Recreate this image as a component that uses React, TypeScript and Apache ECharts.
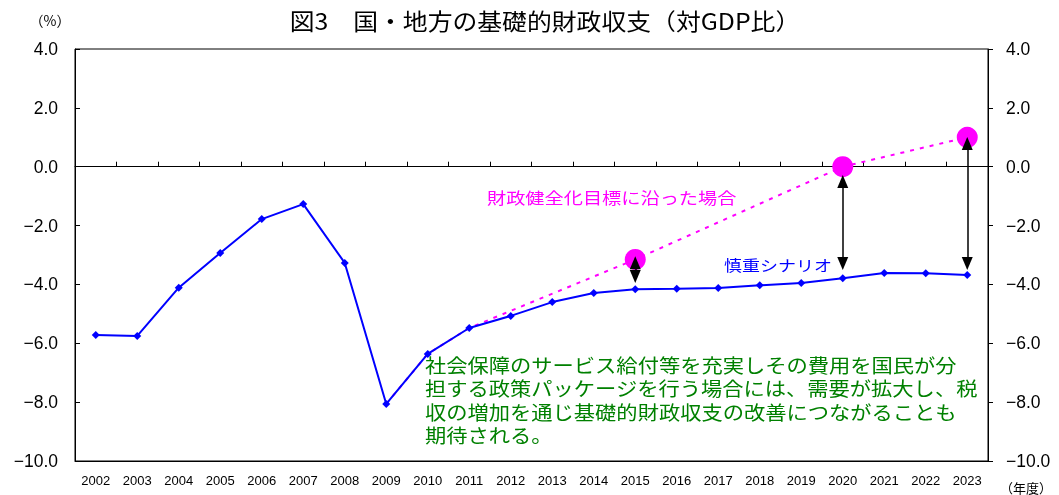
import React, { useEffect, useRef } from "react";
import * as echarts from "echarts";

const years = ["2002","2003","2004","2005","2006","2007","2008","2009","2010","2011","2012","2013","2014","2015","2016","2017","2018","2019","2020","2021","2022","2023"];
// 慎重シナリオ
const cautiousScenario = [-5.72,-5.75,-4.11,-2.93,-1.78,-1.27,-3.27,-8.06,-6.36,-5.48,-5.07,-4.60,-4.29,-4.16,-4.15,-4.12,-4.03,-3.95,-3.79,-3.61,-3.62,-3.68];
// 財政健全化目標に沿った場合
const targetPath: (number | null)[] = [null,null,null,null,null,null,null,-8.06,-6.36,-5.48,null,null,null,-3.15,null,null,null,null,0.0,null,null,1.0];
const targetMarkerYears = ["2015","2020","2023"];
// gap arrows
const arrowYears = ["2015","2020","2023"];
const arrowTop = [-3.26,-0.5,0.79];
const arrowBottom = [-3.73,-3.29,-3.29];
const yTickMin = -10;
const yTickMax = 4;
const yTickStep = 2;

const titleText = "図3　国・地方の基礎的財政収支（対GDP比）";
const noteLines = [
  "社会保障のサービス給付等を充実しその費用を国民が分",
  "担する政策パッケージを行う場合には、需要が拡大し、税",
  "収の増加を通じ基礎的財政収支の改善につながることも",
  "期待される。",
];

const NUM_FONT = "'Liberation Sans', Arial, sans-serif";
const JP_FONT = "'Noto Sans CJK JP', sans-serif";

export default function App() {
  const ref = useRef<HTMLDivElement>(null);
  useEffect(() => {
    if (!ref.current) return;
    const chart = echarts.init(ref.current, null, { renderer: "svg" });
    const fmt = (v: number) => (v < 0 ? "−" + Math.abs(v).toFixed(1) : v.toFixed(1));
    const targetData = targetPath.map((v, i) => {
      const big = targetMarkerYears.includes(years[i]);
      return big ? { value: v, symbol: "circle", symbolSize: 21 } : { value: v, symbol: "none" };
    });
    const arrowData = arrowYears.map((y, i) => [
      { coord: [y, arrowTop[i]] },
      { coord: [y, arrowBottom[i]] },
    ]);
    const yAxisBase = {
      type: "value",
      min: yTickMin,
      max: yTickMax,
      interval: yTickStep,
      splitLine: { show: false },
      axisLine: { show: true, lineStyle: { color: "#000", width: 1 } },
    };
    chart.setOption({
      animation: false,
      grid: { left: 75, right: 71, top: 49, bottom: 34, show: true, borderColor: "#000", borderWidth: 1 },
      xAxis: [
        {
          type: "category",
          data: years,
          position: "bottom",
          boundaryGap: true,
          axisLine: { onZero: false, lineStyle: { color: "#000" } },
          axisTick: { show: false },
          axisLabel: { color: "#000", fontSize: 13, fontFamily: NUM_FONT, margin: 13 },
        },
        {
          type: "category",
          data: years,
          position: "top",
          boundaryGap: true,
          axisLine: { show: true, onZero: true, onZeroAxisIndex: 0, lineStyle: { color: "#000", width: 1 } },
          axisTick: { show: true, inside: false, length: 5, lineStyle: { color: "#000" } },
          axisLabel: { show: false },
        },
      ],
      yAxis: [
        {
          ...yAxisBase,
          position: "left",
          axisTick: { show: true, inside: true, length: 5, lineStyle: { color: "#000" } },
          axisLabel: { color: "#000", fontSize: 17.5, fontFamily: NUM_FONT, margin: 17, formatter: fmt },
        },
        {
          ...yAxisBase,
          position: "right",
          axisTick: { show: true, inside: false, length: 5, lineStyle: { color: "#000" } },
          axisLabel: { color: "#000", fontSize: 17.5, fontFamily: NUM_FONT, margin: 18, formatter: fmt },
        },
      ],
      series: [
        {
          name: "財政健全化目標に沿った場合",
          type: "line",
          data: targetData,
          connectNulls: true,
          xAxisIndex: 0,
          yAxisIndex: 0,
          lineStyle: { color: "#FF00FF", width: 2, type: [4, 6] },
          itemStyle: { color: "#FF00FF" },
          z: 2,
        },
        {
          name: "慎重シナリオ",
          type: "line",
          data: cautiousScenario,
          xAxisIndex: 0,
          yAxisIndex: 0,
          symbol: "diamond",
          symbolSize: 8,
          lineStyle: { color: "#0000FF", width: 2 },
          itemStyle: { color: "#0000FF" },
          z: 3,
        },
        {
          name: "gap",
          type: "line",
          data: [],
          xAxisIndex: 0,
          yAxisIndex: 0,
          z: 5,
          markLine: {
            silent: true,
            symbol: ["triangle", "triangle"],
            symbolSize: [11, 13],
            label: { show: false },
            lineStyle: { color: "#000", width: 1.5, type: "solid" },
            data: arrowData,
          },
        },
      ],
      graphic: [
        {
          type: "text",
          x: 545,
          y: 20,
          scaleX: 1.08,
          style: { text: titleText, fontSize: 23, fontFamily: JP_FONT, fill: "#000", textAlign: "center", textVerticalAlign: "middle" },
        },
        {
          type: "text",
          x: 50,
          y: 20,
          style: { text: "（%）", fontSize: 14, fontFamily: JP_FONT, fill: "#000", textAlign: "center", textVerticalAlign: "middle" },
        },
        {
          type: "text",
          x: 1026,
          y: 487,
          style: { text: "（年度）", fontSize: 13, fontFamily: JP_FONT, fill: "#000", textAlign: "center", textVerticalAlign: "middle" },
        },
        {
          type: "text",
          x: 487,
          y: 197,
          scaleX: 1.2,
          style: { text: "財政健全化目標に沿った場合", fontSize: 16, fontFamily: JP_FONT, fill: "#FF00FF", textAlign: "left", textVerticalAlign: "middle" },
        },
        {
          type: "text",
          x: 724,
          y: 265,
          scaleX: 1.2,
          style: { text: "慎重シナリオ", fontSize: 15, fontFamily: JP_FONT, fill: "#0000FF", textAlign: "left", textVerticalAlign: "middle" },
        },
        {
          type: "text",
          x: 425,
          y: 353,
          scaleX: 1.12,
          style: { text: noteLines.join("\n"), fontSize: 19, lineHeight: 23.5, fontFamily: JP_FONT, fill: "#008000", textAlign: "left", textVerticalAlign: "top" },
        },
      ],
    });
    return () => chart.dispose();
  }, []);
  return <div ref={ref} style={{ position: "fixed", left: 0, top: 0, width: 1059, height: 495 }} />;
}
